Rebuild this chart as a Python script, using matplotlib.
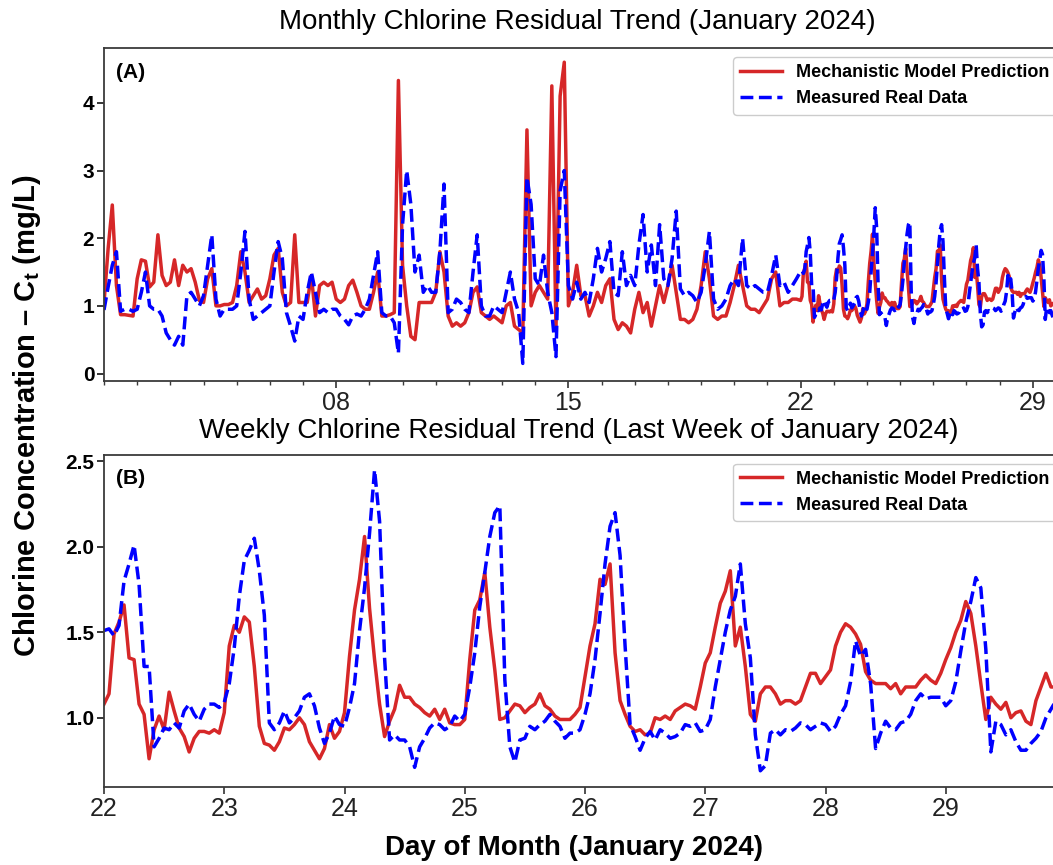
import matplotlib

matplotlib.use("Agg")

import matplotlib.pyplot as plt  # noqa: E402
import matplotlib.dates as mdates  # noqa: E402
import numpy as np  # noqa: E402
import pandas as pd  # noqa: E402

plt.rcParams["font.family"] = ["Liberation Sans", "DejaVu Sans"]
plt.rcParams["mathtext.fontset"] = "custom"
plt.rcParams["mathtext.rm"] = "Liberation Sans"
plt.rcParams["mathtext.bf"] = "Liberation Sans:bold"
plt.rcParams["mathtext.it"] = "Liberation Sans:italic"

# Jan 1 - Jan 21, 3-hourly readings (8 per day)
model_early = [
    1.04, 1.85, 2.49, 1.30, 0.87, 0.87, 0.86, 0.85,
    1.40, 1.68, 1.66, 1.28, 1.35, 2.05, 1.45, 1.30,
    1.35, 1.68, 1.30, 1.60, 1.50, 1.55, 1.35, 1.08,
    1.05, 1.40, 1.55, 1.00, 1.00, 1.02, 1.02, 1.05,
    1.30, 1.80, 1.50, 1.05, 1.15, 1.25, 1.10, 1.15,
    1.40, 1.75, 1.85, 1.20, 1.00, 1.05, 2.05, 1.05,
    1.05, 1.05, 1.45, 0.85, 1.30, 1.35, 1.30, 1.35,
    1.10, 1.05, 1.10, 1.30, 1.38, 1.20, 1.00, 0.95,
    0.95, 1.20, 1.50, 0.85, 0.85, 0.87, 0.90, 4.33,
    1.60, 1.00, 0.55, 0.50, 1.05, 1.05, 1.05, 1.05,
    1.20, 1.80, 1.50, 0.85, 0.70, 0.75, 0.70, 0.75,
    0.90, 1.20, 1.28, 0.90, 0.85, 0.80, 0.85, 0.80,
    0.75, 1.00, 1.05, 0.70, 0.65, 0.60, 3.60, 1.00,
    1.20, 1.30, 1.20, 1.10, 4.25, 0.65, 4.10, 4.60,
    1.00, 1.20, 1.60, 1.15, 1.15, 0.85, 1.00, 1.20,
    1.05, 1.30, 1.40, 0.80, 0.65, 0.75, 0.70, 0.60,
    0.95, 1.20, 0.90, 1.05, 0.70, 1.00, 1.30, 1.05,
    1.30, 1.60, 1.20, 0.80, 0.80, 0.75, 0.80, 0.95,
    1.30, 1.80, 1.40, 0.85, 0.80, 0.85, 0.85, 1.05,
    1.30, 1.60, 1.30, 1.00, 0.95, 0.95, 0.90, 1.00,
    1.10, 1.40, 1.50, 1.00, 1.05, 1.05, 1.10, 1.10,
]
measured_early = [
    0.94, 1.28, 1.60, 1.80, 0.92, 0.95, 0.95, 0.92,
    0.95, 1.20, 1.50, 1.00, 0.95, 0.95, 0.85, 0.60,
    0.50, 0.42, 0.55, 0.42, 1.15, 1.20, 1.10, 1.00,
    1.15, 1.60, 2.05, 1.10, 0.85, 0.95, 0.95, 0.95,
    1.00, 1.50, 2.10, 1.10, 0.80, 0.85, 0.90, 0.95,
    1.00, 1.50, 1.95, 1.70, 0.90, 0.70, 0.48, 0.85,
    0.80, 1.20, 1.50, 1.20, 0.90, 0.95, 0.90, 0.95,
    0.95, 0.85, 0.80, 0.72, 0.85, 0.88, 0.85, 0.95,
    1.10, 1.45, 1.80, 0.90, 0.85, 0.85, 0.75, 0.30,
    2.20, 3.00, 2.50, 1.50, 1.75, 1.20, 1.30, 1.20,
    1.20, 1.80, 2.80, 0.90, 0.95, 1.10, 1.05, 0.95,
    0.90, 1.50, 2.05, 1.00, 0.85, 0.85, 1.00, 0.95,
    0.90, 1.20, 1.50, 1.10, 0.90, 0.15, 2.90, 2.50,
    1.40, 1.30, 1.75, 1.20, 0.90, 0.25, 2.70, 3.00,
    1.30, 1.10, 1.35, 1.10, 1.20, 1.05, 1.40, 1.85,
    1.50, 1.70, 1.95, 1.20, 1.15, 1.80, 1.30, 1.45,
    1.30, 1.90, 2.35, 1.50, 1.90, 1.30, 2.20, 1.40,
    1.30, 1.70, 2.40, 1.25, 1.15, 1.20, 1.15, 1.05,
    1.20, 1.60, 2.10, 1.10, 0.95, 1.00, 1.10, 1.30,
    1.40, 1.30, 2.00, 1.30, 1.25, 1.30, 1.25, 1.20,
    1.20, 1.45, 1.75, 1.30, 1.35, 1.20, 1.30, 1.40,
]

# Jan 22 - Jan 29, hourly readings (24 per day)
model_week = [
    1.08, 1.14, 1.49, 1.56, 1.66, 1.35, 1.34, 1.08, 1.02, 0.76, 0.93, 1.01,
    0.93, 1.15, 1.04, 0.94, 0.89, 0.80, 0.88, 0.92, 0.92, 0.91, 0.93, 0.91,
    1.03, 1.42, 1.54, 1.50, 1.59, 1.56, 1.30, 0.95, 0.85, 0.84, 0.81, 0.86,
    0.94, 0.93, 0.96, 1.00, 0.96, 0.86, 0.81, 0.76, 0.82, 0.96, 0.88, 0.92,
    1.03, 1.36, 1.63, 1.81, 2.06, 1.64, 1.34, 1.08, 0.89, 0.98, 1.05, 1.19,
    1.12, 1.12, 1.08, 1.06, 1.03, 1.01, 1.05, 0.99, 1.05, 0.97, 0.96, 0.96,
    0.99, 1.34, 1.63, 1.69, 1.85, 1.53, 1.28, 0.99, 1.00, 1.04, 1.08, 1.07,
    1.03, 1.06, 1.08, 1.14, 1.07, 1.05, 1.01, 0.99, 0.99, 0.99, 1.02, 1.06,
    1.24, 1.42, 1.55, 1.81, 1.78, 1.90, 1.38, 1.10, 1.02, 0.95, 0.92, 0.93,
    0.90, 0.91, 1.00, 0.99, 1.01, 0.99, 1.04, 1.06, 1.08, 1.07, 1.05, 1.18,
    1.32, 1.38, 1.53, 1.67, 1.74, 1.86, 1.42, 1.53, 1.30, 1.02, 0.98, 1.14,
    1.18, 1.18, 1.14, 1.08, 1.10, 1.10, 1.08, 1.10, 1.18, 1.26, 1.26, 1.20,
    1.24, 1.28, 1.42, 1.50, 1.55, 1.53, 1.49, 1.43, 1.27, 1.22, 1.20, 1.20,
    1.20, 1.17, 1.20, 1.14, 1.18, 1.18, 1.18, 1.22, 1.25, 1.22, 1.20, 1.26,
    1.34, 1.41, 1.50, 1.57, 1.68, 1.61, 1.42, 1.20, 0.99, 1.12, 1.08, 1.05,
    1.09, 1.00, 1.03, 1.04, 0.98, 0.96, 1.10, 1.18, 1.26, 1.18, 1.18, 1.16,
]
measured_week = [
    1.51, 1.52, 1.48, 1.54, 1.80, 1.90, 2.01, 1.78, 1.30, 1.30, 0.83, 0.88,
    0.94, 0.93, 0.97, 0.94, 1.04, 1.08, 1.02, 0.98, 1.05, 1.08, 1.08, 1.06,
    1.09, 1.20, 1.41, 1.71, 1.92, 1.98, 2.05, 1.86, 1.60, 0.97, 0.93, 0.97,
    1.04, 0.97, 1.00, 1.04, 1.12, 1.14, 1.07, 0.94, 0.85, 0.91, 1.01, 0.96,
    0.95, 1.06, 1.20, 1.51, 1.76, 2.08, 2.45, 2.15, 1.35, 0.87, 0.90, 0.87,
    0.87, 0.83, 0.71, 0.83, 0.88, 0.94, 0.97, 0.96, 0.93, 0.95, 1.01, 0.98,
    1.02, 1.18, 1.38, 1.65, 1.85, 2.06, 2.20, 2.24, 1.22, 0.83, 0.74, 0.87,
    0.88, 0.95, 0.93, 0.96, 0.98, 1.02, 0.98, 0.95, 0.88, 0.91, 0.91, 0.93,
    1.02, 1.14, 1.34, 1.61, 1.90, 2.12, 2.20, 1.95, 1.42, 0.96, 0.89, 0.81,
    0.88, 0.92, 0.87, 0.93, 0.91, 0.88, 0.89, 0.91, 0.96, 0.95, 0.97, 0.92,
    0.93, 0.99, 1.18, 1.34, 1.50, 1.63, 1.71, 1.90, 1.55, 1.35, 0.90, 0.69,
    0.72, 0.91, 0.93, 0.90, 0.93, 0.92, 0.94, 0.97, 0.96, 0.93, 0.95, 0.97,
    0.96, 0.92, 0.95, 1.02, 1.07, 1.21, 1.45, 1.36, 1.40, 1.20, 0.82, 0.91,
    0.98, 0.94, 0.93, 0.97, 0.98, 1.02, 1.10, 1.14, 1.11, 1.12, 1.12, 1.12,
    1.07, 1.10, 1.21, 1.39, 1.56, 1.68, 1.82, 1.76, 1.40, 0.80, 0.98, 0.96,
    0.90, 0.93, 0.86, 0.81, 0.81, 0.85, 0.88, 0.92, 1.00, 1.05, 1.10, 1.12,
]

month_ticks = [0, 1, 2, 3, 4]
week_ticks = [1.0, 1.5, 2.0, 2.5]

RED = "#d62728"
BLUE = "#0000ff"
W, H = 1053, 865

early_t = pd.date_range("2024-01-01", periods=len(model_early), freq="3h")
week_t = pd.date_range("2024-01-22", periods=len(model_week), freq="h")
month_t = early_t.append(week_t)
month_model = np.concatenate([model_early, model_week])
month_measured = np.concatenate([measured_early, measured_week])


def style_axes(ax):
    for sp in ax.spines.values():
        sp.set_color("#3a3a3a")
        sp.set_linewidth(1.3)
    ax.tick_params(axis="x", which="major", labelsize=18, length=5, width=1.1, pad=2, colors="#222222")
    ax.tick_params(axis="x", which="minor", length=3, width=1.0, colors="#3a3a3a")
    ax.tick_params(axis="y", which="major", labelsize=15, length=5, width=1.1, pad=2)


def draw(ax, t, model, measured):
    ax.plot(t, model, color=RED, lw=2.5, label="Mechanistic Model Prediction")
    ax.plot(t, measured, color=BLUE, lw=2.5, ls="--", label="Measured Real Data")
    ax.legend(loc="upper right", prop={"weight": "bold", "size": 13},
              handlelength=2.3, framealpha=1, edgecolor="#cccccc")


fig = plt.figure(figsize=(W / 100, H / 100), dpi=100)
ax_a = fig.add_axes([104 / W, 1 - 381 / H, 962 / W, 333 / H])
ax_b = fig.add_axes([104 / W, 1 - 787 / H, 962 / W, 332.5 / H])

# (A) monthly
draw(ax_a, month_t, month_model, month_measured)
ax_a.set_xlim(pd.Timestamp("2024-01-01"), pd.Timestamp("2024-01-30"))
ax_a.set_ylim(-0.11, 4.81)
ax_a.xaxis.set_major_locator(mdates.DayLocator(bymonthday=[8, 15, 22, 29]))
ax_a.xaxis.set_minor_locator(mdates.DayLocator())
ax_a.xaxis.set_major_formatter(mdates.DateFormatter("%d"))
ax_a.set_yticks(month_ticks)
ax_a.set_yticklabels([str(v) for v in month_ticks], fontweight="bold")
style_axes(ax_a)
ax_a.text(0.012, 0.955, "(A)", transform=ax_a.transAxes, fontsize=15,
          fontweight="bold", va="top", ha="left")

# (B) last week
draw(ax_b, week_t, model_week, measured_week)
ax_b.set_xlim(pd.Timestamp("2024-01-22"), pd.Timestamp("2024-01-30"))
ax_b.set_ylim(0.595, 2.54)
ax_b.xaxis.set_major_locator(mdates.DayLocator(bymonthday=list(range(22, 30))))
ax_b.xaxis.set_major_formatter(mdates.DateFormatter("%d"))
ax_b.set_yticks(week_ticks)
ax_b.set_yticklabels([f"{v:.1f}" for v in week_ticks], fontweight="bold")
style_axes(ax_b)
ax_b.text(0.012, 0.955, "(B)", transform=ax_b.transAxes, fontsize=15,
          fontweight="bold", va="top", ha="left")

fig.text(577 / W, 1 - 22 / H, "Monthly Chlorine Residual Trend (January 2024)",
         fontsize=20, ha="center", va="center")
fig.text(579 / W, 1 - 431 / H, "Weekly Chlorine Residual Trend (Last Week of January 2024)",
         fontsize=20, ha="center", va="center")
fig.text(27 / W, 1 - 416 / H, r"Chlorine Concentration – $\mathbf{C_t}$ (mg/L)",
         fontsize=21, fontweight="bold", rotation=90, ha="center", va="center")
fig.text(574 / W, 1 - 848 / H, "Day of Month (January 2024)",
         fontsize=20, fontweight="bold", ha="center", va="center")

fig.savefig("out.png", dpi=100)
plt.close(fig)
